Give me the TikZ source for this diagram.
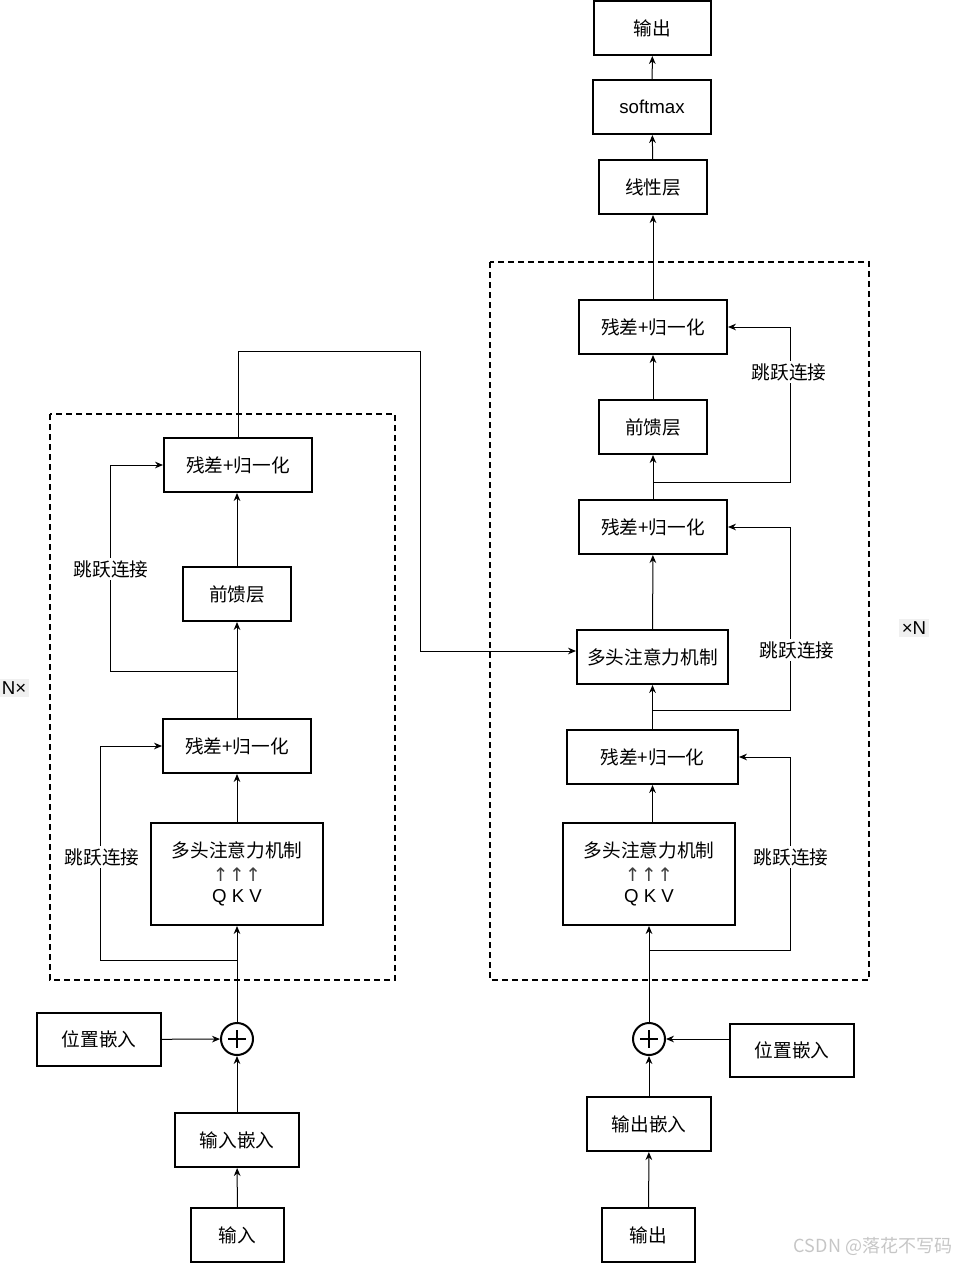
\documentclass[tikz,border=0pt]{standalone}
\usepackage{fontspec}
\setmainfont{Liberation Sans}
\newfontfamily\cjk{Noto Sans CJK SC}
\newfontfamily\symf{DejaVu Sans}
\usetikzlibrary{arrows.meta}

\newcommand{\boxfont}{\cjk\fontsize{14}{17}\selectfont}
\newcommand{\qkvarrows}{{\fontsize{14}{17}\selectfont\symf\color{black!75}↑\hspace{0.5pt}↑\hspace{0.5pt}↑}}

\tikzset{
  blk/.style 2 args={draw, line width=1.5pt, inner sep=0pt, align=center,
    minimum width=#1*0.75pt, minimum height=#2*0.75pt, font=\boxfont},
  arr/.style={-{Stealth[length=6pt,width=5pt]}, line width=0.75pt},
  wire/.style={line width=0.75pt},
  skiplbl/.style={fill=white, inner sep=1.5pt, font=\boxfont},
  dashbox/.style={line width=1.4pt, dash pattern=on 4.5pt off 3pt},
  plus/.style={circle, draw, line width=1.5pt, minimum size=24pt, inner sep=0pt,
    path picture={
      \draw[line width=0.9pt] ([yshift=-5.5pt]path picture bounding box.north) -- ([yshift=5.5pt]path picture bounding box.south);
      \draw[line width=0.9pt] ([xshift=5.5pt]path picture bounding box.west) -- ([xshift=-5.5pt]path picture bounding box.east);
    }},
  rep/.style={fill=gray!12, inner sep=2pt, font=\fontsize{14}{16}\selectfont}
}

\begin{document}
\begin{tikzpicture}[x=0.75pt,y=-0.75pt]
\useasboundingbox (0,0) rectangle (960,1264);

% dashed frames
\draw[dashbox] (50,414) rectangle (395,980);
\draw[dashbox] (490,262) rectangle (869,980);

% encoder
\node[blk={93}{54}] (inL) at (237.5,1235) {输入};
\node[blk={124}{54}] (embL) at (237,1140) {输入嵌入};
\node[plus] (plusL) at (237,1039) {};
\node[blk={124}{53}] (posL) at (99,1039.5) {位置嵌入};
\node[blk={172}{102}] (mhaL) at (237,874) {多头注意力机制\\[0.5pt]\qkvarrows\\[-1pt]{\rmfamily Q K V}};
\node[blk={148}{54}] (anL1) at (237,746) {残差+归一化};
\node[blk={108}{54}] (ffL) at (237,594) {前馈层};
\node[blk={148}{54}] (anL2) at (238,465) {残差+归一化};

% decoder
\node[blk={93}{54}] (outR) at (648.5,1235) {输出};
\node[blk={124}{54}] (embR) at (649,1124) {输出嵌入};
\node[plus] (plusR) at (649,1039) {};
\node[blk={124}{53}] (posR) at (792,1050.5) {位置嵌入};
\node[blk={172}{102}] (mhaR) at (649,874) {多头注意力机制\\[0.5pt]\qkvarrows\\[-1pt]{\rmfamily Q K V}};
\node[blk={171}{54}] (anR1) at (652.5,757) {残差+归一化};
\node[blk={151}{54}] (mhaR2) at (652.5,657) {多头注意力机制};
\node[blk={148}{54}] (anR2) at (653,527) {残差+归一化};
\node[blk={108}{54}] (ffR) at (653,427) {前馈层};
\node[blk={148}{54}] (anR3) at (653,327) {残差+归一化};
\node[blk={108}{54}] (lin) at (653,187) {线性层};
\node[blk={118}{54}] (soft) at (652,107) {\rmfamily softmax};
\node[blk={117}{54}] (outT) at (652.5,28) {输出};

% encoder connectors
\draw[arr] (inL) -- (embL);
\draw[arr] (embL) -- (plusL);
\draw[arr] (posL) -- (plusL);
\draw[arr] (plusL) -- (mhaL);
\draw[arr] (mhaL) -- (anL1);
\draw[arr] (anL1) -- (ffL);
\draw[arr] (ffL.north) -- (ffL.north |- anL2.south);
\coordinate (brL1) at (237,960);
\coordinate (cL1) at (100,960);
\draw[arr] (brL1) -- (cL1) |- (anL1.west);
\coordinate (brL2) at (237,671);
\coordinate (cL2) at (110,671);
\draw[arr] (brL2) -- (cL2) |- (anL2.west);
\node[skiplbl] (skL1) at (102,857) {跳跃连接};
\node[skiplbl] (skL2) at (111,569) {跳跃连接};

% encoder to decoder
\coordinate (xA) at (420,351);
\coordinate (xB) at (420,651);
\draw[arr] (anL2.north) |- (xA) -- (xB) -- (xB -| mhaR2.west);

% decoder connectors
\draw[arr] (outR) -- (embR);
\draw[arr] (embR) -- (plusR);
\draw[arr] (posR.west |- plusR) -- (plusR);
\draw[arr] (plusR) -- (mhaR);
\draw[arr] (anR1.south |- mhaR.north) -- (anR1.south);
\draw[arr] (anR1) -- (mhaR2);
\draw[arr] (mhaR2) -- (anR2);
\draw[arr] (anR2) -- (ffR);
\draw[arr] (ffR) -- (anR3);
\draw[arr] (anR3) -- (lin);
\draw[arr] (lin) -- (soft);
\draw[arr] (soft) -- (outT);
\coordinate (brR1) at (649,950);
\coordinate (cR1) at (790,950);
\draw[arr] (brR1) -- (cR1) |- (anR1.east);
\coordinate (brR2) at (653,710);
\coordinate (cR2) at (790,710);
\draw[arr] (brR2) -- (cR2) |- (anR2.east);
\coordinate (brR3) at (653,482);
\coordinate (cR3) at (790,482);
\draw[arr] (brR3) -- (cR3) |- (anR3.east);
\node[skiplbl] (skR1) at (791,857) {跳跃连接};
\node[skiplbl] (skR2) at (797,650) {跳跃连接};
\node[skiplbl] (skR3) at (789,372) {跳跃连接};

% repeat marks
\node[rep] (repL) at (14,688) {N×};
\node[rep] (repR) at (914,628) {×N};

% watermark
\node[text=gray!45, font=\cjk\fontsize{13.5}{15}\selectfont] (wm) at (873,1246) {CSDN @落花不写码};
\end{tikzpicture}
\end{document}
